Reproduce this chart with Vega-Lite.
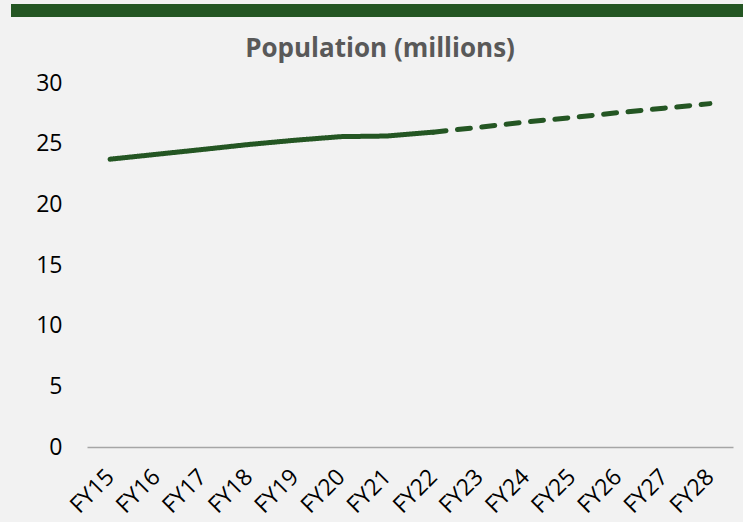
{
  "$schema": "https://vega.github.io/schema/vega-lite/v6.json",
  "background": "#f2f2f2",
  "padding": {"left": 11, "top": 4, "right": 0, "bottom": 10},
  "spacing": 19,
  "config": {"view": {"stroke": null}, "font": "Open Sans"},
  "vconcat": [
    {
      "data": {"values": [{"band": "header"}]},
      "width": 732,
      "height": 13,
      "mark": {"type": "rect", "color": "#245623"},
      "encoding": {}
    },
    {
      "data": {
        "values": [
          {"year": "FY15", "value": 23.72, "series": "Actual"},
          {"year": "FY16", "value": 24.12, "series": "Actual"},
          {"year": "FY17", "value": 24.52, "series": "Actual"},
          {"year": "FY18", "value": 24.93, "series": "Actual"},
          {"year": "FY19", "value": 25.28, "series": "Actual"},
          {"year": "FY20", "value": 25.58, "series": "Actual"},
          {"year": "FY21", "value": 25.63, "series": "Actual"},
          {"year": "FY22", "value": 25.95, "series": "Actual"},
          {"year": "FY22", "value": 25.95, "series": "Forecast"},
          {"year": "FY23", "value": 26.35, "series": "Forecast"},
          {"year": "FY24", "value": 26.78, "series": "Forecast"},
          {"year": "FY25", "value": 27.15, "series": "Forecast"},
          {"year": "FY26", "value": 27.55, "series": "Forecast"},
          {"year": "FY27", "value": 27.92, "series": "Forecast"},
          {"year": "FY28", "value": 28.3, "series": "Forecast"}
        ]
      },
      "width": 722,
      "height": 364,
      "title": {
        "text": "Population (millions)",
        "fontSize": 26,
        "fontWeight": "bold",
        "color": "#595959",
        "font": "Open Sans",
        "anchor": "middle",
        "dx": 8,
        "offset": 10
      },
      "mark": {"type": "line", "strokeWidth": 5, "strokeCap": "round", "strokeJoin": "round", "color": "#245623"},
      "encoding": {
        "x": {
          "field": "year",
          "type": "ordinal",
          "sort": null,
          "scale": {"type": "point", "range": [76, 722], "padding": 0.5},
          "axis": {
            "title": null,
            "labelAngle": -45,
            "labelAlign": "right",
            "labelBaseline": "middle",
            "labelPadding": 26,
            "labelFontSize": 23,
            "labelColor": "#000000",
            "ticks": false,
            "domainColor": "#a6a6a6",
            "domainWidth": 1.5
          }
        },
        "y": {
          "field": "value",
          "type": "quantitative",
          "scale": {"domain": [0, 30], "nice": false, "zero": true},
          "axis": {
            "values": [0, 5, 10, 15, 20, 25, 30],
            "offset": -76,
            "grid": false,
            "domain": false,
            "ticks": false,
            "labelPadding": 25,
            "labelFontSize": 23,
            "labelColor": "#000000",
            "title": null
          }
        },
        "strokeDash": {
          "field": "series",
          "type": "nominal",
          "scale": {"domain": ["Actual", "Forecast"], "range": [[1, 0], [13, 11.5]]},
          "legend": null
        }
      }
    }
  ]
}
